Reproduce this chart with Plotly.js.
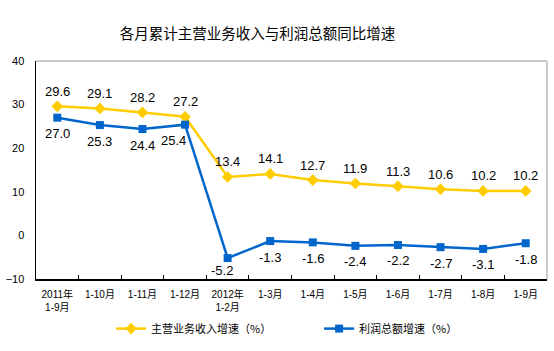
<!DOCTYPE html>
<html>
<head>
<meta charset="utf-8">
<script src="https://cdn.plot.ly/plotly-3.0.1.min.js"></script>
<style>html,body{margin:0;padding:0;background:#fff;}#chart{width:554px;height:351px;}</style>
</head>
<body>
<div id="chart"></div>
<script>
var categories = ["2011年<br>1-9月", "1-10月", "1-11月", "1-12月", "2012年<br>1-2月", "1-3月", "1-4月", "1-5月", "1-6月", "1-7月", "1-8月", "1-9月"];
var revenueGrowth = [29.6, 29.1, 28.2, 27.2, 13.4, 14.1, 12.7, 11.9, 11.3, 10.6, 10.2, 10.2];
var profitGrowth = [27.0, 25.3, 24.4, 25.4, -5.2, -1.3, -1.6, -2.4, -2.2, -2.7, -3.1, -1.8];
var seriesNames = ["主营业务收入增速（%）", "利润总额增速（%）"];

var labelFont = {family: "Liberation Sans, Arial, sans-serif", size: 13, color: "#000"};

var traces = [
  {
    x: categories, y: revenueGrowth, name: seriesNames[0], type: "scatter", mode: "lines+markers",
    line: {color: "#FFCC00", width: 2.5},
    marker: {symbol: "diamond", size: 9, color: "#FFCC00"},
    cliponaxis: false
  },
  {
    x: categories, y: profitGrowth, name: seriesNames[1], type: "scatter", mode: "lines+markers",
    line: {color: "#0066CC", width: 2.5},
    marker: {symbol: "square", size: 8, color: "#0066CC"},
    cliponaxis: false
  }
];

var annotations = [];
revenueGrowth.forEach(function(v, i){
  annotations.push({x: categories[i], y: v, xref: "x", yref: "y", text: v.toFixed(1), showarrow: false,
    yshift: 15, font: labelFont});
});
profitGrowth.forEach(function(v, i){
  var a = {x: categories[i], y: v, xref: "x", yref: "y", text: v.toFixed(1), showarrow: false,
    yshift: -16, font: labelFont};
  if (i === 3) { a.xshift = -12; a.yshift = -16; }
  if (i === 4) { a.xshift = -6; a.yshift = -12; }
  annotations.push(a);
});

var layout = {
  width: 554, height: 351,
  margin: {l: 36, r: 7, t: 61, b: 72},
  paper_bgcolor: "#fff", plot_bgcolor: "#fff",
  title: {text: "各月累计主营业务收入与利润总额同比增速", x: 0.465, xanchor: "center", y: 0.903, yanchor: "middle",
          font: {family: "Noto Sans CJK SC, sans-serif", size: 14.5, color: "#000"}},
  showlegend: true,
  legend: {orientation: "h", x: 0.147, xanchor: "left", y: -0.161, yanchor: "top",
           font: {family: "Noto Sans CJK SC, sans-serif", size: 11, color: "#000"},
           entrywidth: 163, entrywidthmode: "pixels", traceorder: "normal"},
  annotations: annotations,
  xaxis: {
    type: "category", range: [-0.5, 11.5], fixedrange: true, automargin: false,
    showline: true, linecolor: "#000", linewidth: 1.5,
    ticks: "inside", tickson: "boundaries", ticklen: 4, tickcolor: "#000",
    showgrid: false, zeroline: false, ticklabelstandoff: 5,
    tickfont: {family: "Liberation Sans, Noto Sans CJK SC, sans-serif", size: 10, color: "#000"}
  },
  yaxis: {
    range: [-10, 40], dtick: 10, tick0: 0, fixedrange: true, automargin: false,
    showline: true, linecolor: "#000", linewidth: 1.5,
    ticks: "", showgrid: false, zeroline: false,
    tickfont: {family: "Liberation Sans, Arial, sans-serif", size: 11, color: "#000"},
    ticklabelstandoff: 8
  },
  shapes: [
    {type: "line", xref: "paper", yref: "paper", x0: 0, x1: 1, y0: 1, y1: 1, line: {color: "#999", width: 1}},
    {type: "line", xref: "paper", yref: "paper", x0: 1, x1: 1, y0: 0, y1: 1, line: {color: "#999", width: 1}}
  ]
};

Plotly.newPlot("chart", traces, layout, {displayModeBar: false, staticPlot: true});
</script>
</body>
</html>
